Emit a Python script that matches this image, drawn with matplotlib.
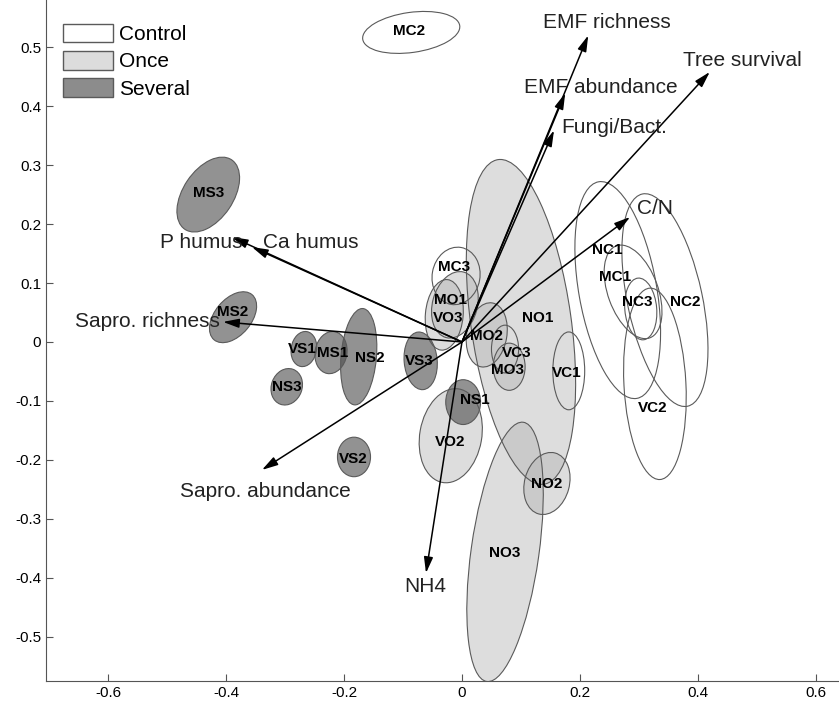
#ordination plot with treatment ellipses and fitted vectors
import numpy as np
import matplotlib
matplotlib.use("Agg")
from matplotlib import pyplot as plt
from matplotlib.patches import Ellipse, Patch

plt.rcParams['font.family'] = ['Liberation Sans', 'DejaVu Sans']
plt.rcParams['axes.unicode_minus'] = False

# ellipses: name, treatment, centre x, centre y, width, height, angle
names = ['MC2', 'MC3', 'VC3', 'VC1', 'NC1', 'MC1', 'NC3', 'NC2', 'VC2',
         'NO1', 'NO3', 'VO2', 'MO1', 'VO3', 'MO2', 'MO3', 'NO2',
         'MS3', 'MS2', 'VS1', 'MS1', 'NS2', 'NS3', 'VS2', 'VS3', 'NS1']
treat = ['Control'] * 9 + ['Once'] * 8 + ['Several'] * 9
cx = [-0.086, -0.010, 0.073, 0.181, 0.264, 0.290, 0.303, 0.344, 0.327,
      0.100, 0.073, -0.019, -0.012, -0.030, 0.042, 0.080, 0.144,
      -0.430, -0.388, -0.268, -0.222, -0.175, -0.297, -0.183, -0.070, 0.002]
cy = [0.525, 0.112, -0.012, -0.049, 0.088, 0.085, 0.056, 0.071, -0.071,
      0.034, -0.356, -0.159, 0.063, 0.046, 0.012, -0.042, -0.240,
      0.250, 0.042, -0.012, -0.018, -0.025, -0.076, -0.195, -0.032, -0.102]
ew = [0.166, 0.081, 0.046, 0.054, 0.132, 0.085, 0.054, 0.127, 0.105,
      0.170, 0.115, 0.105, 0.076, 0.064, 0.068, 0.054, 0.076,
      0.142, 0.100, 0.043, 0.054, 0.060, 0.052, 0.056, 0.056, 0.059]
eh = [0.068, 0.098, 0.081, 0.132, 0.373, 0.166, 0.105, 0.368, 0.325,
      0.556, 0.444, 0.161, 0.115, 0.120, 0.110, 0.080, 0.107,
      0.085, 0.062, 0.060, 0.072, 0.164, 0.063, 0.067, 0.098, 0.076]
ang = [8, -10, 0, 0, 10, 20, 5, 12, 3,
       8, -8, -10, -15, -5, -10, 0, -15,
       56, 50, -10, -10, -5, -20, 0, 5, 0]
# where the name sits
lx = [-0.090, -0.014, 0.093, 0.178, 0.247, 0.259, 0.297, 0.378, 0.324,
      0.129, 0.073, -0.020, -0.019, -0.024, 0.042, 0.078, 0.144,
      -0.430, -0.388, -0.270, -0.220, -0.156, -0.297, -0.185, -0.073, 0.022]
ly = [0.527, 0.127, -0.019, -0.053, 0.156, 0.110, 0.068, 0.068, -0.112,
      0.041, -0.358, -0.169, 0.071, 0.041, 0.010, -0.047, -0.241,
      0.253, 0.051, -0.012, -0.019, -0.027, -0.076, -0.198, -0.032, -0.098]

# fitted vectors
vec_names = ['EMF richness', 'EMF abundance', 'Fungi/Bact.', 'Tree survival', 'C/N',
             'NH4', 'Sapro. abundance', 'Sapro. richness', 'P humus', 'Ca humus']
vx = [0.214, 0.175, 0.156, 0.420, 0.285, -0.061, -0.339, -0.405, -0.390, -0.356]
vy = [0.520, 0.422, 0.359, 0.458, 0.212, -0.392, -0.217, 0.034, 0.178, 0.161]
tx = [0.246, 0.236, 0.169, 0.476, 0.297, -0.063, -0.334, -0.656, -0.512, -0.337]
ty = [0.541, 0.432, 0.364, 0.478, 0.227, -0.415, -0.253, 0.034, 0.168, 0.169]
tha = ['center', 'center', 'left', 'center', 'left', 'center', 'center', 'left', 'left', 'left']

xticks = [-0.6, -0.4, -0.2, 0, 0.2, 0.4, 0.6]
xticklabels = ['-0.6', '-0.4', '-0.2', '0', '0.2', '0.4', '0.6']
yticks = [-0.5, -0.4, -0.3, -0.2, -0.1, 0, 0.1, 0.2, 0.3, 0.4, 0.5]
yticklabels = ['-0.5', '-0.4', '-0.3', '-0.2', '-0.1', '0', '0.1', '0.2', '0.3', '0.4', '0.5']

face = {'Control': 'none', 'Once': '#b4b4b4', 'Several': '#4a4a4a'}
alpha = {'Control': 1.0, 'Once': 0.45, 'Several': 0.6}
edge = '#5a5a5a'

fig = plt.figure(figsize=(8.39, 7.05), dpi=100)
ax = fig.add_axes([46/839, 24/705, 793/839, 681/705])

for i in range(len(names)):
    e = Ellipse((cx[i], cy[i]), ew[i], eh[i], angle=ang[i],
                facecolor=face[treat[i]], edgecolor='none', alpha=alpha[treat[i]], zorder=1)
    ax.add_patch(e)
    ax.add_patch(Ellipse((cx[i], cy[i]), ew[i], eh[i], angle=ang[i],
                         facecolor='none', edgecolor=edge, lw=0.8, zorder=2))

for i in range(len(vec_names)):
    ax.annotate('', xy=(vx[i], vy[i]), xytext=(0, 0),
                arrowprops=dict(arrowstyle='-|>,head_length=0.6,head_width=0.17', color='black',
                                lw=1.1, mutation_scale=16, shrinkA=0, shrinkB=0), zorder=3)
    ax.text(tx[i], ty[i], vec_names[i], fontsize=15, ha=tha[i], va='center', color='#222222', zorder=4)

for i in range(len(names)):
    ax.text(lx[i], ly[i], names[i], fontsize=11, fontweight='bold', ha='center', va='center', zorder=5)

ax.set_xlim(-0.705, 0.639)
ax.set_ylim(-0.575, 0.58)
ax.set_xticks(xticks)
ax.set_xticklabels(xticklabels)
ax.set_yticks(yticks)
ax.set_yticklabels(yticklabels)
ax.tick_params(direction='in', length=5, labelsize=11, color='#555555')
for s in ['top', 'right']:
    ax.spines[s].set_visible(False)
for s in ['left', 'bottom']:
    ax.spines[s].set_color('#555555')

handles = [Patch(facecolor='white', edgecolor=edge, label='Control'),
           Patch(facecolor='#dcdcdc', edgecolor=edge, label='Once'),
           Patch(facecolor='#8c8c8c', edgecolor=edge, label='Several')]
ax.legend(handles=handles, loc='upper left', bbox_to_anchor=(0.021, 0.965), frameon=False,
          fontsize=15, handlelength=2.4, handleheight=1.0, handletextpad=0.3,
          labelspacing=0.32, borderpad=0, borderaxespad=0)

plt.savefig('out.png', dpi=100)
